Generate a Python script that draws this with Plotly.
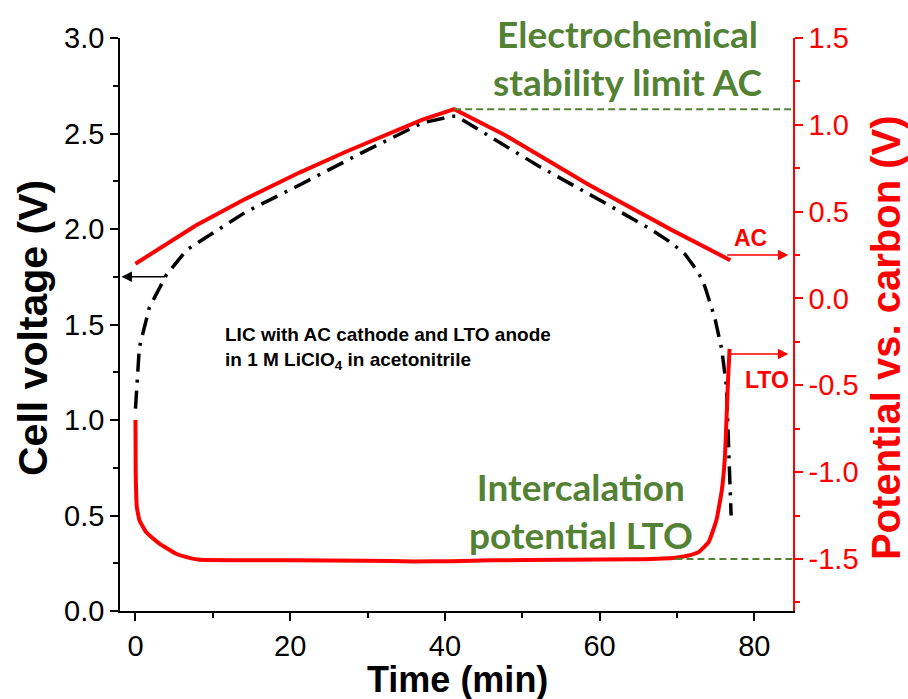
import plotly.graph_objects as go

# ---- data -------------------------------------------------------------
# Cell voltage of the LIC (left axis, V)
t_cell = [0, 0.5, 1.8, 4.0, 6.6, 10.5, 14.3, 20.7, 29.3, 37.1, 40.9, 41.5,
          52.1, 60.7, 66.7, 69.3, 71.1, 72.8, 73.6, 74.9, 75.8, 76.4, 76.6,
          76.9, 77.0]
v_cell = [1.06, 1.38, 1.59, 1.76, 1.89, 1.99, 2.09, 2.22, 2.40, 2.556, 2.59,
          2.59, 2.33, 2.136, 1.996, 1.927, 1.865, 1.77, 1.70, 1.533, 1.367,
          1.174, 0.947, 0.685, 0.50]

# AC electrode potential vs. carbon (right axis, V)
t_ac = [0, 3.1, 7.8, 14.3, 21.2, 27.2, 31.5, 34.5, 37.1, 41.2,
        47.8, 58.6, 69.3, 76.9]
p_ac = [0.20, 0.29, 0.42, 0.575, 0.725, 0.845, 0.925, 0.98, 1.03, 1.09,
        0.94, 0.655, 0.395, 0.22]

# LTO electrode potential vs. carbon (right axis, V)
t_lto = [0, 0.03, 0.17, 0.52, 1.38, 2.2, 3.1, 4.1, 5.25, 6.6, 8.3, 20,
         30, 36, 41, 46, 55, 65, 69.8, 71.5, 72.8, 74.1, 75.1, 75.8, 76.2,
         76.4, 76.6, 76.8]
p_lto = [-0.70, -1.00, -1.20, -1.279, -1.345, -1.38, -1.412, -1.44, -1.47,
         -1.49, -1.505, -1.508, -1.51, -1.515, -1.513, -1.508, -1.505,
         -1.502, -1.493, -1.48, -1.461, -1.403, -1.278, -1.105, -0.913,
         -0.70, -0.47, -0.29]

# reference levels (right axis, V)
ac_limit = 1.09
lto_intercalation = -1.5

# axis ticks
x_ticks = [0, 20, 40, 60, 80]
left_ticks = [0.0, 0.5, 1.0, 1.5, 2.0, 2.5, 3.0]
right_ticks = [-1.5, -1.0, -0.5, 0.0, 0.5, 1.0, 1.5]
right_ticklabels = ["-1.5", "-1.0", "-0.5", "0.0", "0.5", "1.0", "1.5"]

# ---- styling ----------------------------------------------------------
W, H = 908, 699
ML, MR, MT, MB = 120, 115, 38, 88
RED = "#ff0000"
GREEN = "#548235"
SANS = "Liberation Sans, Arial, sans-serif"
GREEN_FONT = "Lato, Open Sans, sans-serif"


def px(x):
    """Horizontal pixel -> paper coordinate."""
    return (x - ML) / (W - ML - MR)


def py(y):
    """Vertical pixel -> paper coordinate."""
    return (H - MB - y) / (H - MT - MB)


def label(x, y, text, size, color, family=SANS, **kw):
    """Free text placed by pixel position (centre anchored by default)."""
    d = dict(x=px(x), y=py(y), xref="paper", yref="paper", text=text,
             showarrow=False, xanchor="center", yanchor="middle",
             font=dict(family=family, size=size, color=color))
    d.update(kw)
    return d


fig = go.Figure()

fig.add_trace(go.Scatter(
    x=t_cell, y=v_cell, mode="lines", yaxis="y",
    line=dict(color="black", width=3.5, dash="18px,8px,3px,8px"),
    showlegend=False, hoverinfo="skip"))

fig.add_trace(go.Scatter(
    x=t_ac, y=p_ac, mode="lines", yaxis="y2",
    line=dict(color=RED, width=4), showlegend=False, hoverinfo="skip"))

fig.add_trace(go.Scatter(
    x=t_lto, y=p_lto, mode="lines", yaxis="y2",
    line=dict(color=RED, width=4, shape="spline", smoothing=0.3),
    showlegend=False, hoverinfo="skip"))

# dashed reference levels
fig.add_shape(type="line", xref="x", yref="y2", x0=t_ac[9], x1=85,
              y0=ac_limit, y1=ac_limit,
              line=dict(color=GREEN, width=2, dash="7px,4px"))
fig.add_shape(type="line", xref="x", yref="y2", x0=69.8, x1=85,
              y0=lto_intercalation, y1=lto_intercalation,
              line=dict(color=GREEN, width=2, dash="7px,4px"))

annotations = []

# arrows pointing to the relevant axes
annotations.append(dict(
    x=-1.8, y=1.75, xref="x", yref="y", ax=4.0, ay=1.75, axref="x", ayref="y",
    showarrow=True, arrowhead=2, arrowsize=1.3, arrowwidth=1.6,
    arrowcolor="black", text=""))
annotations.append(dict(
    x=84.4, y=0.25, xref="x", yref="y2", ax=76.3, ay=0.25, axref="x",
    ayref="y2", showarrow=True, arrowhead=2, arrowsize=1.3, arrowwidth=1.6,
    arrowcolor=RED, text=""))
annotations.append(dict(
    x=84.4, y=-0.32, xref="x", yref="y2", ax=76.8, ay=-0.32, axref="x",
    ayref="y2", showarrow=True, arrowhead=2, arrowsize=1.3, arrowwidth=1.6,
    arrowcolor=RED, text=""))

# arrow labels
annotations.append(label(750, 238, "<b>AC</b>", 23, RED))
annotations.append(label(767, 380, "<b>LTO</b>", 23, RED))

# green explanatory labels
annotations.append(label(628, 57, "<b>Electrochemical<br>stability limit AC</b>",
                         37, GREEN, family=GREEN_FONT, align="center"))
annotations.append(label(581, 510, "<b>Intercalation<br>potential LTO</b>",
                         37, GREEN, family=GREEN_FONT, align="center"))

# cell description
annotations.append(label(
    223, 349,
    "<b>LIC with AC cathode and LTO anode<br>"
    "in 1 M LiClO<sub>4</sub> in acetonitrile</b>",
    19, "black", xanchor="left", align="left"))

# axis titles
annotations.append(label(33, 328, "<b>Cell voltage (V)</b>", 41, "black",
                         textangle=-90))
annotations.append(label(886, 338, "<b>Potential vs. carbon (V)</b>", 40, RED,
                         textangle=-90))
annotations.append(label(457, 679, "<b>Time (min)</b>", 36, "black"))

fig.update_layout(
    width=W, height=H,
    margin=dict(l=ML, r=MR, t=MT, b=MB, pad=0),
    paper_bgcolor="white", plot_bgcolor="white",
    showlegend=False,
    annotations=annotations,
    xaxis=dict(
        range=[-2, 85], tickvals=x_ticks, ticks="outside", ticklen=8,
        tickwidth=1.5, tickcolor="black", showline=True, linewidth=1.5,
        linecolor="black", showgrid=False, zeroline=False,
        tickfont=dict(family=SANS, size=29, color="black"),
        minor=dict(dtick=10, tick0=0, ticks="outside", ticklen=5,
                   tickwidth=1.5, tickcolor="black", showgrid=False)),
    yaxis=dict(
        range=[0, 3.0], tickvals=left_ticks, tickformat=".1f",
        ticks="outside", ticklen=8, tickwidth=1.5, tickcolor="black",
        showline=True, linewidth=1.5, linecolor="black", showgrid=False,
        zeroline=False, tickfont=dict(family=SANS, size=29, color="black"),
        minor=dict(dtick=0.25, tick0=0, ticks="outside", ticklen=5,
                   tickwidth=1.5, tickcolor="black", showgrid=False)),
    yaxis2=dict(
        range=[-1.8, 1.5], overlaying="y", side="right", anchor="x",
        tickvals=right_ticks, ticktext=right_ticklabels,
        ticks="outside", ticklen=8, tickwidth=1.5, tickcolor=RED,
        showline=True, linewidth=1.5, linecolor=RED, showgrid=False,
        zeroline=False, tickfont=dict(family=SANS, size=29, color=RED),
        minor=dict(dtick=0.25, tick0=0, ticks="outside", ticklen=5,
                   tickwidth=1.5, tickcolor=RED, showgrid=False)),
)

fig.write_html("out.html")
